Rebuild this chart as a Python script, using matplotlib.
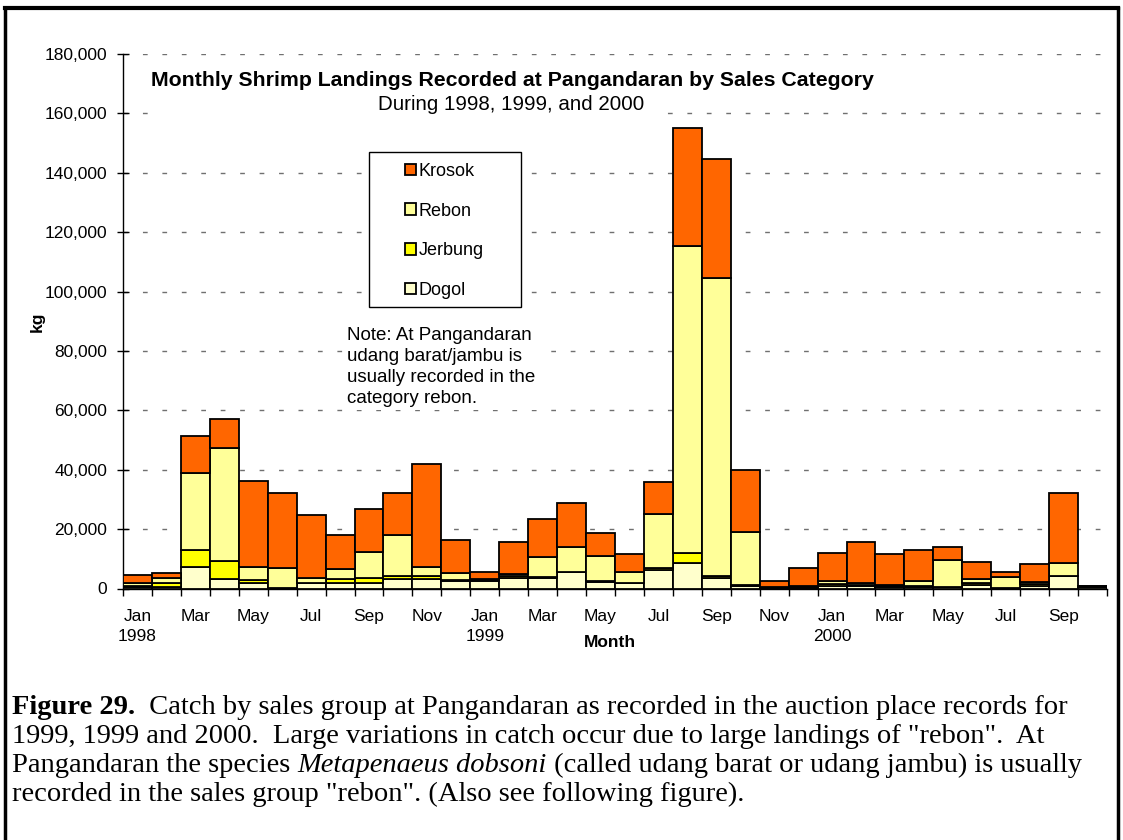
"""
Monthly shrimp landings at Pangandaran, stacked by sales category
"""

import matplotlib
matplotlib.use('Agg')
import matplotlib.pyplot as plt
from matplotlib.patches import Rectangle
from matplotlib.lines import Line2D
import matplotlib.ticker as mticker
import numpy as np

# monthly landings, Jan 1998 .. Oct 2000, thousands of kg
months = ['Jan 1998', 'Feb 1998', 'Mar 1998', 'Apr 1998', 'May 1998', 'Jun 1998',
          'Jul 1998', 'Aug 1998', 'Sep 1998', 'Oct 1998', 'Nov 1998', 'Dec 1998',
          'Jan 1999', 'Feb 1999', 'Mar 1999', 'Apr 1999', 'May 1999', 'Jun 1999',
          'Jul 1999', 'Aug 1999', 'Sep 1999', 'Oct 1999', 'Nov 1999', 'Dec 1999',
          'Jan 2000', 'Feb 2000', 'Mar 2000', 'Apr 2000', 'May 2000', 'Jun 2000',
          'Jul 2000', 'Aug 2000', 'Sep 2000', 'Oct 2000']

dogol = [0.5, 0.6, 7.2, 3.3, 1.8, 0.2, 1.7, 1.7, 2.0, 3.1, 3.1, 2.6,
         2.6, 3.7, 3.7, 5.4, 2.3, 1.7, 6.1, 8.7, 3.4, 0.8, 0.2, 0.3,
         0.8, 0.9, 0.4, 0.5, 0.4, 1.2, 0.2, 0.8, 4.1, 0.5]
jerbung = [0.5, 1.1, 5.7, 6.1, 1.0, 0.1, 0.3, 1.4, 1.6, 1.2, 1.2, 0.3,
           0.2, 0.5, 0.3, 0.2, 0.3, 0.3, 0.9, 3.3, 0.9, 0.5, 0.1, 0.3,
           0.7, 0.2, 0.4, 0.5, 0.2, 0.5, 0.1, 0.8, 0.2, 0.1]
rebon = [0.7, 1.7, 25.9, 37.9, 4.3, 6.6, 1.6, 3.5, 8.7, 13.8, 3.1, 2.2,
         0.3, 0.6, 6.7, 8.5, 8.3, 3.6, 18.2, 103.5, 100.4, 17.8, 0.1, 0.2,
         1.1, 0.9, 0.4, 1.5, 9.0, 1.6, 3.6, 0.6, 4.4, 0.2]
krosok = [2.7, 1.9, 12.6, 9.9, 29.2, 25.4, 21.2, 11.3, 14.6, 14.2, 34.5, 11.2,
          2.3, 10.7, 12.8, 14.6, 7.8, 5.9, 10.8, 39.6, 40.1, 20.8, 2.0, 6.2,
          9.5, 13.7, 10.3, 10.5, 4.5, 5.6, 1.7, 5.9, 23.6, 0.1]

tick_labels = ['Jan\n1998', 'Mar', 'May', 'Jul', 'Sep', 'Nov',
               'Jan\n1999', 'Mar', 'May', 'Jul', 'Sep', 'Nov',
               'Jan\n2000', 'Mar', 'May', 'Jul', 'Sep']
y_ticks = [0, 20000, 40000, 60000, 80000, 100000, 120000, 140000, 160000, 180000]

series = [('Dogol', dogol, '#FFFFCC'),
          ('Jerbung', jerbung, '#FFFF00'),
          ('Rebon', rebon, '#FFFF99'),
          ('Krosok', krosok, '#FF6600')]

plt.rcParams['font.family'] = ['Liberation Sans', 'DejaVu Sans']

W, H = 1123, 840
fig = plt.figure(figsize=(W / 100, H / 100), dpi=100)

def fx(px):
    return px / W

def fy(py):
    return 1 - py / H

ax = fig.add_axes([fx(123), fy(588.5), fx(1107 - 123), (588.5 - 54) / H])

x = np.arange(len(months))
bottom = np.zeros(len(months))
bars = {}
for name, vals, color in series:
    v = np.array(vals) * 1000
    bars[name] = ax.bar(x, v, width=1.0, bottom=bottom, color=color,
                        edgecolor='black', linewidth=1.3, zorder=3)
    bottom += v

ax.set_xlim(-0.5, len(months) - 0.5)
ax.set_ylim(0, 180000)
ax.set_yticks(y_ticks)
ax.yaxis.set_major_formatter(mticker.StrMethodFormatter('{x:,.0f}'))
ax.tick_params(axis='y', direction='inout', length=9, width=1, labelsize=12.5, pad=7)

# tick marks between categories, labels on every second month
ax.set_xticks(np.arange(len(months) + 1) - 0.5)
ax.set_xticklabels([])
ax.set_xticks(x[::2], minor=True)
ax.set_xticklabels(tick_labels, minor=True, fontsize=12.5, linespacing=1.4)
ax.tick_params(axis='x', which='major', direction='out', length=5, width=1)
ax.tick_params(axis='x', which='minor', length=0, pad=15)

for s in ['top', 'right']:
    ax.spines[s].set_visible(False)
for s in ['left', 'bottom']:
    ax.spines[s].set_linewidth(1)

ax.yaxis.grid(True, linestyle=(0, (3.4, 10.6)), color='#707070', linewidth=1, zorder=0)
ax.set_axisbelow(True)

ax.set_ylabel('kg', fontsize=12.5, fontweight='bold', labelpad=0)
ax.yaxis.set_label_coords(fx(45 - 123) / fx(984), 0.5)
ax.set_xlabel('Month', fontsize=12.5, fontweight='bold')
ax.xaxis.set_label_coords(0.495, -0.087)

# white area behind the chart title
fig.patches.append(Rectangle((fx(148), fy(122)), fx(656 - 148), (122 - 62) / H,
                             transform=fig.transFigure, facecolor='white',
                             edgecolor='none', zorder=2))
fig.text(fx(512), fy(86), 'Monthly Shrimp Landings Recorded at Pangandaran by Sales Category',
         fontsize=15.3, fontweight='bold', ha='center', va='baseline', zorder=5)
fig.text(fx(511), fy(110), 'During 1998, 1999, and 2000',
         fontsize=14.8, ha='center', va='baseline', zorder=5)

# legend box
fig.patches.append(Rectangle((fx(369), fy(307)), fx(521 - 369), (307 - 152) / H,
                             transform=fig.transFigure, facecolor='white',
                             edgecolor='black', linewidth=1, zorder=2))
handles = [bars[n] for n in ['Krosok', 'Rebon', 'Jerbung', 'Dogol']]
leg = fig.legend(handles, ['Krosok', 'Rebon', 'Jerbung', 'Dogol'],
                 loc='upper left', bbox_to_anchor=(fx(405), fy(163)),
                 frameon=False, fontsize=13, handlelength=0.62, handleheight=0.62,
                 handletextpad=0.15, labelspacing=1.25, borderpad=0, borderaxespad=0)
leg.set_zorder(6)

ax.text(fx(347 - 123) / fx(984), (588.5 - 327) / 534.5,
        'Note: At Pangandaran\nudang barat/jambu is\nusually recorded in the\ncategory rebon.',
        transform=ax.transAxes, fontsize=13.5, ha='left', va='top', linespacing=1.3,
        bbox=dict(facecolor='white', edgecolor='none', pad=2), zorder=5)

# caption below the chart, mixed styles on a line
renderer = fig.canvas.get_renderer()
cap = dict(family=['Liberation Serif', 'DejaVu Serif'], fontsize=20.5, va='baseline')
caption = [
    [('Figure 29.', 'bold', 'normal'),
     ('  Catch by sales group at Pangandaran as recorded in the auction place records for', 'normal', 'normal')],
    [('1999, 1999 and 2000.  Large variations in catch occur due to large landings of "rebon".  At', 'normal', 'normal')],
    [('Pangandaran the species ', 'normal', 'normal'),
     ('Metapenaeus dobsoni', 'normal', 'italic'),
     (' (called udang barat or udang jambu) is usually', 'normal', 'normal')],
    [('recorded in the sales group "rebon". (Also see following figure).', 'normal', 'normal')],
]
base = 714
for i, line in enumerate(caption):
    xpos = 12
    for txt, wt, st in line:
        t = fig.text(fx(xpos), fy(base + 29 * i), txt, fontweight=wt, fontstyle=st, **cap)
        xpos += t.get_window_extent(renderer).width

# frame around the figure
for xs, ys, lw in [((5, 5), (8, 840), 2.5), ((5, 1118), (8, 8), 3), ((1118, 1118), (8, 840), 2.5)]:
    fig.add_artist(Line2D([fx(v) for v in xs], [fy(v) for v in ys], color='black', linewidth=lw))

fig.savefig('out.png', dpi=100)
